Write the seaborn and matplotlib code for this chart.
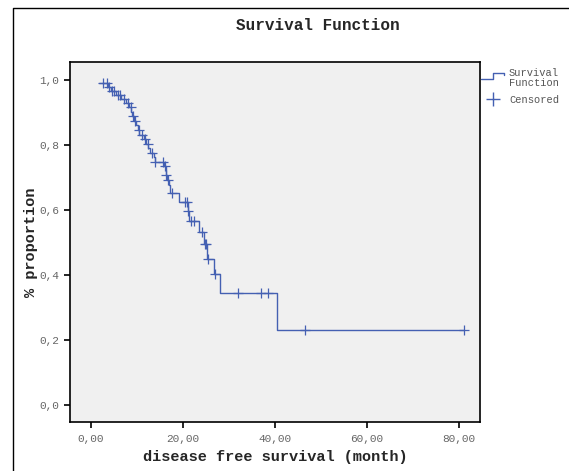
import numpy as np
import pandas as pd
import matplotlib
matplotlib.use("Agg")
import matplotlib.pyplot as plt
from matplotlib.lines import Line2D
from matplotlib.ticker import FuncFormatter
import seaborn as sns

# ---- data ----------------------------------------------------------------
# Kaplan-Meier steps: time of each drop (months) and survival after it
step_times = [1.8, 3.6, 4.3, 5.4, 6.6, 7.5, 8.2, 8.8, 9.0, 9.3, 9.8, 10.2,
              10.5, 11.5, 12.0, 12.4, 12.8, 13.6, 14.0, 15.8, 16.2, 16.4,
              16.6, 16.9, 17.2, 19.2, 21.0, 21.4, 23.5, 24.6, 25.2, 26.7,
              28.1, 40.5, 81.0]
step_surv = [0.990, 0.978, 0.966, 0.954, 0.942, 0.930, 0.916, 0.902, 0.888,
             0.874, 0.860, 0.846, 0.832, 0.818, 0.804, 0.790, 0.776, 0.762,
             0.748, 0.734, 0.720, 0.706, 0.692, 0.678, 0.651, 0.624, 0.597,
             0.567, 0.531, 0.495, 0.449, 0.403, 0.345, 0.231, 0.231]

# censored observations (months)
censor_times = [2.7, 3.4, 4.0, 4.6, 5.1, 5.8, 6.4, 7.2, 8.1, 8.6, 9.2, 9.6,
                10.4, 11.0, 11.7, 12.3, 13.2, 14.0, 15.6, 16.1, 16.4, 16.8,
                17.7, 20.4, 20.9, 21.1, 21.7, 22.4, 24.2, 24.8, 25.1, 25.5,
                27.0, 32.0, 37.0, 38.4, 46.5, 81.0]

x_ticks = [0, 20, 40, 60, 80]
y_ticks = [0.0, 0.2, 0.4, 0.6, 0.8, 1.0]

# ---- build frames ---------------------------------------------------------
curve = pd.DataFrame({"time": step_times, "surv": step_surv})
idx = np.searchsorted(step_times, censor_times, side="right") - 1
censored = pd.DataFrame({"time": censor_times,
                         "surv": np.array(step_surv)[idx]})

# ---- plot -----------------------------------------------------------------
sns.set_style("white")
plt.rcParams["font.family"] = ["Liberation Mono", "DejaVu Sans Mono"]

blue = "#4460b2"
W, H = 569, 471
fig = plt.figure(figsize=(W / 100, H / 100), dpi=100)
fig.patch.set_facecolor("white")
ax = fig.add_axes([70 / W, 1 - 422 / H, 410 / W, 360 / H])
ax.set_facecolor("#f0f0f0")

sns.lineplot(data=curve, x="time", y="surv", ax=ax, color=blue,
             drawstyle="steps-post", estimator=None, sort=False,
             linewidth=1.0)
ax.plot(censored["time"], censored["surv"], linestyle="none", marker="+",
        markersize=7, markeredgewidth=0.9, color=blue)

ax.set_xlim(-4.57, 84.57)
ax.set_ylim(-0.052, 1.055)
ax.set_xticks(x_ticks)
ax.set_yticks(y_ticks)
ax.xaxis.set_major_formatter(FuncFormatter(lambda v, p: f"{v:.2f}".replace(".", ",")))
ax.yaxis.set_major_formatter(FuncFormatter(lambda v, p: f"{v:.1f}".replace(".", ",")))
ax.tick_params(axis="both", direction="out", length=4, width=1.2,
               color="black", labelsize=8, labelcolor="#666666", pad=4,
               bottom=True, left=True)
ax.tick_params(axis="x", pad=5)
for s in ax.spines.values():
    s.set_color("black")
    s.set_linewidth(1.2)

ax.set_xlabel("disease free survival (month)", fontsize=11, fontweight="bold",
              labelpad=4)
ax.set_ylabel("% proportion", fontsize=11, fontweight="bold")
ax.yaxis.set_label_coords(-0.078, 0.5)
fig.text(318 / W, 1 - 25 / H, "Survival Function", ha="center", va="center",
         fontsize=11.5, fontweight="bold")

# legend drawn outside the axes, at the right
def fx(px):
    return px / W

def fy(py):
    return 1 - py / H

fig.add_artist(Line2D([fx(481), fx(493), fx(493), fx(504), fx(504)],
                      [fy(79), fy(79), fy(72.5), fy(72.5), fy(75)],
                      color=blue, linewidth=1.0, transform=fig.transFigure))
fig.add_artist(Line2D([fx(493)], [fy(98.5)], marker="+", markersize=10,
                      markeredgewidth=1.0, color=blue, linestyle="none",
                      transform=fig.transFigure))
fig.text(fx(509), fy(73), "Survival", fontsize=7.5, color="#555555",
         va="center", ha="left")
fig.text(fx(509), fy(83.5), "Function", fontsize=7.5, color="#555555",
         va="center", ha="left")
fig.text(fx(509), fy(100), "Censored", fontsize=7.5, color="#555555",
         va="center", ha="left")

# outer frame (left and top edges visible)
fig.add_artist(Line2D([fx(13), fx(13), fx(W + 5)], [fy(H + 5), fy(7.5), fy(7.5)],
                      color="black", linewidth=1.0, transform=fig.transFigure))

fig.savefig("out.png", dpi=100)
